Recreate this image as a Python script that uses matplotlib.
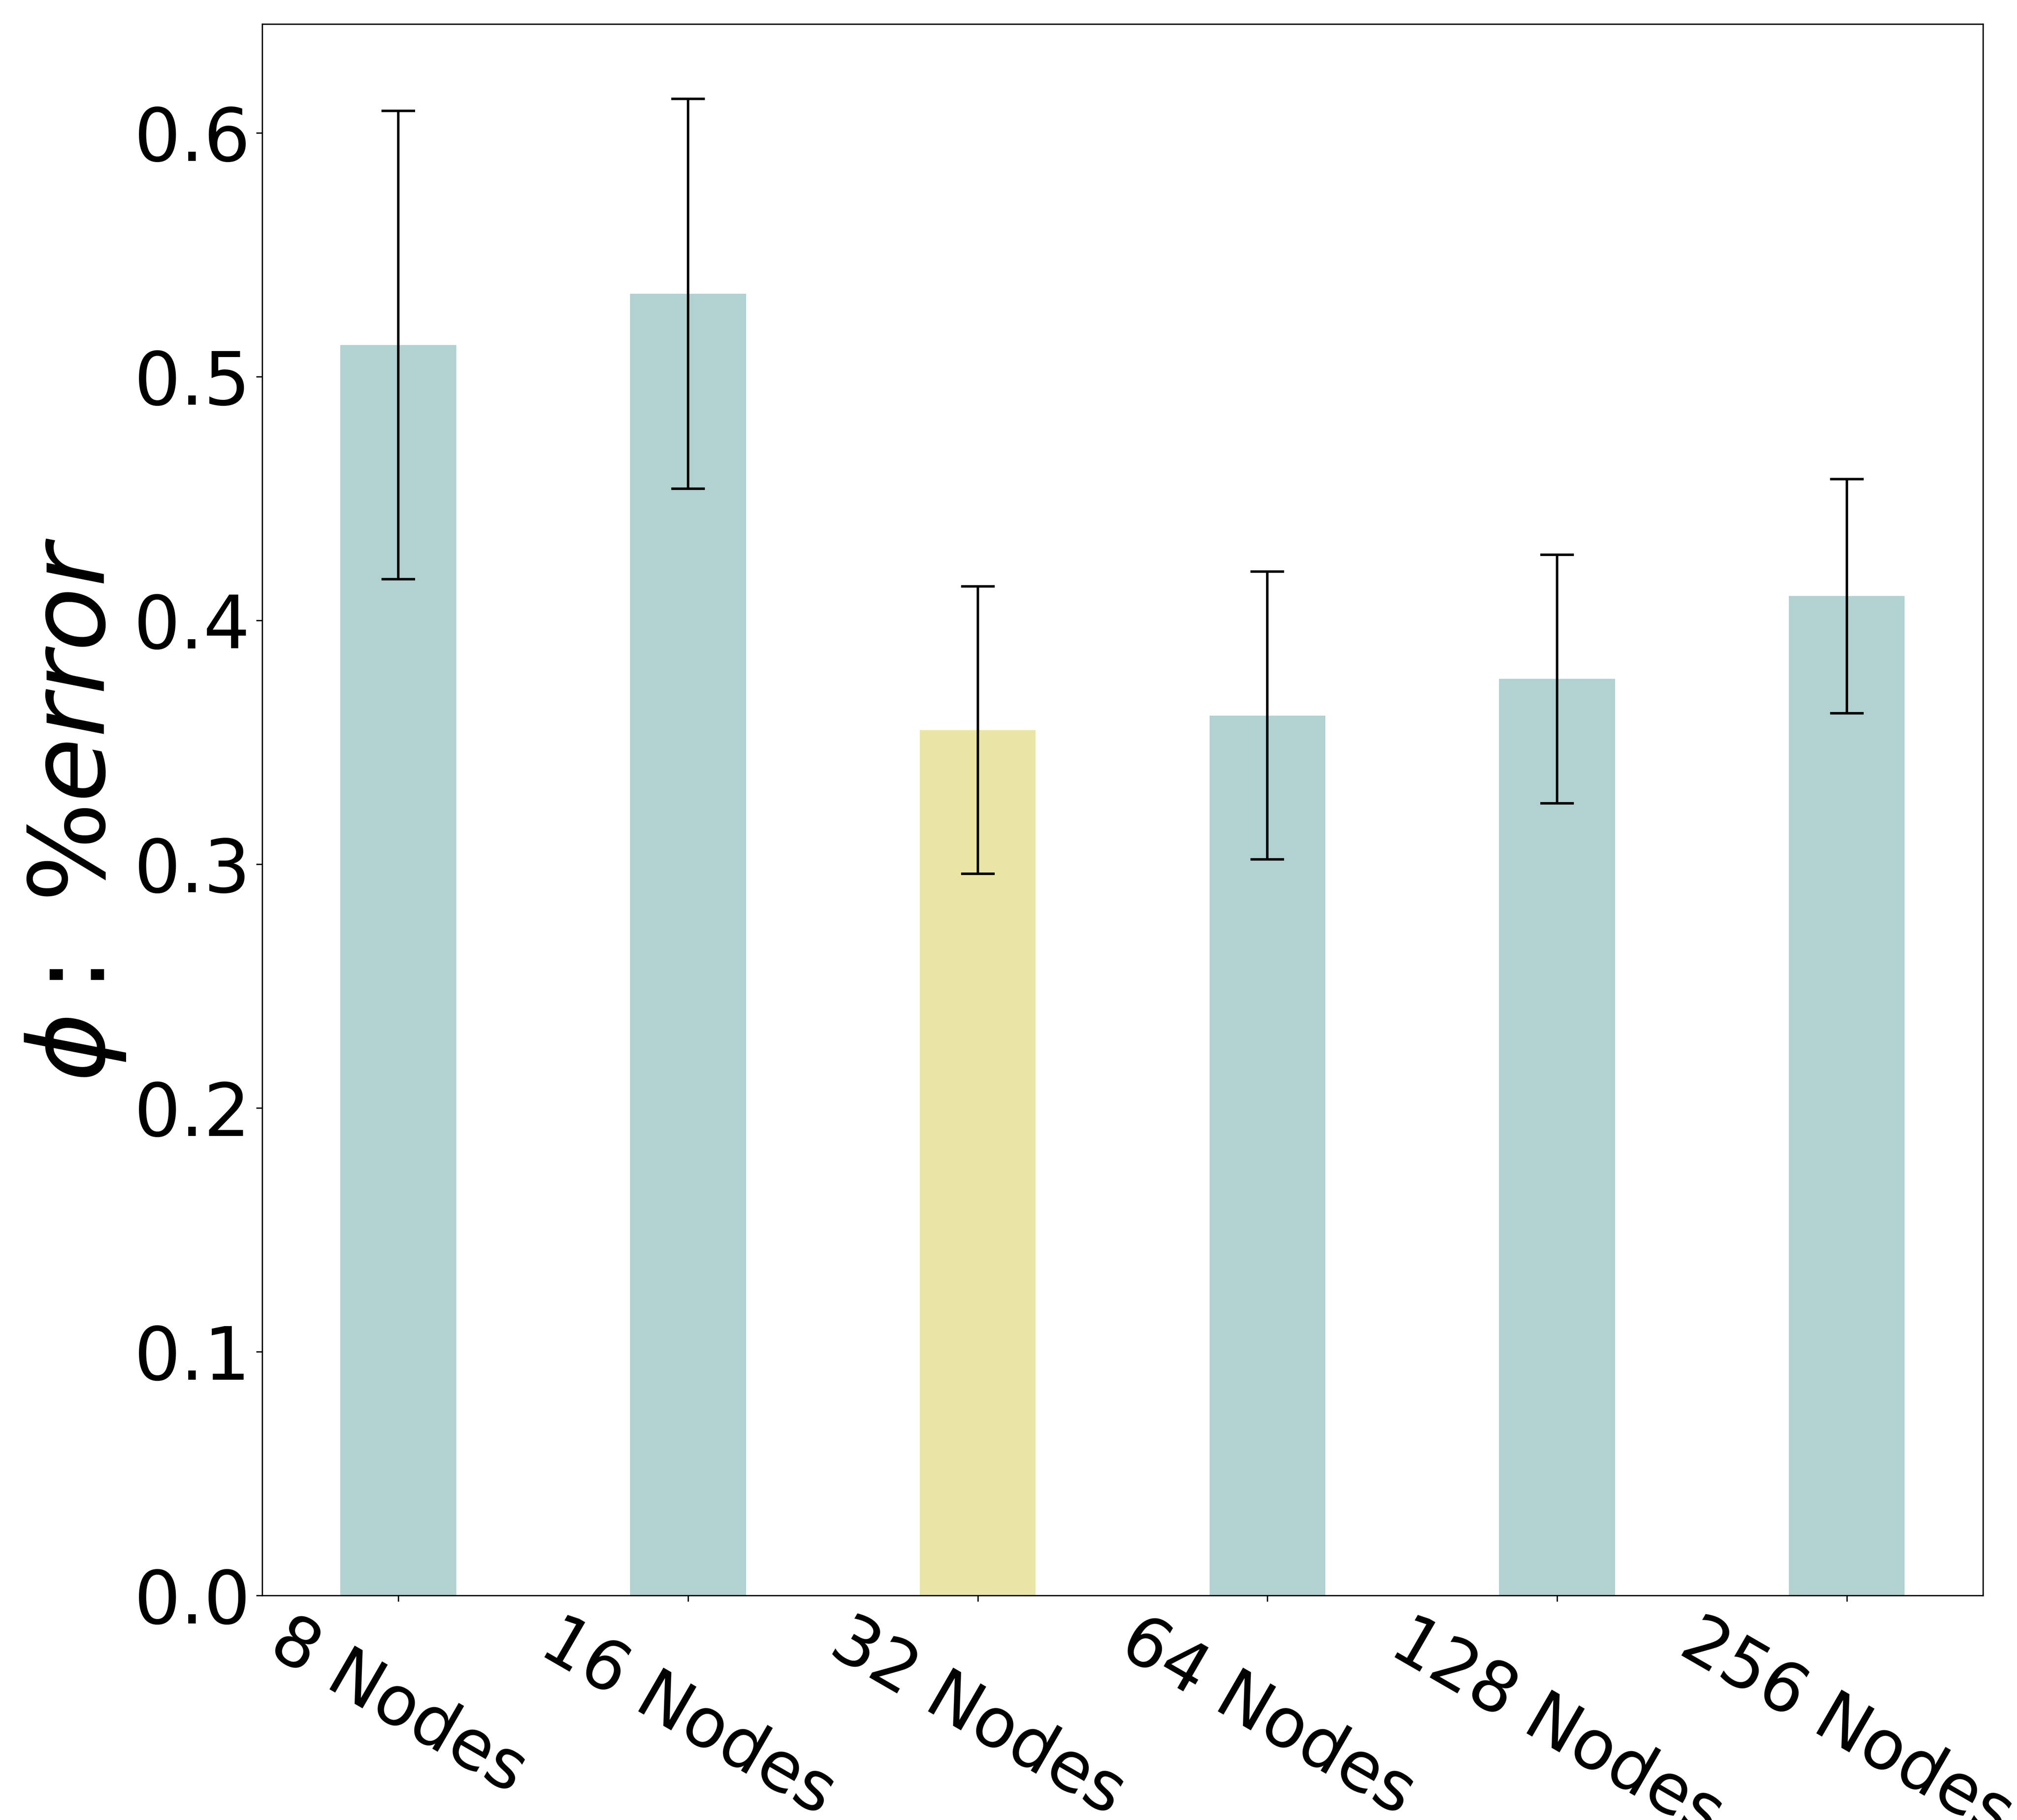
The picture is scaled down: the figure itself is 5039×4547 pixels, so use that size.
import matplotlib
matplotlib.use('Agg')
import matplotlib.pyplot as plt
import numpy as np

# node counts and the measured error for each
labels = ['8 Nodes', '16 Nodes', '32 Nodes', '64 Nodes', '128 Nodes', '256 Nodes']
means = [0.513, 0.534, 0.355, 0.361, 0.376, 0.410]
errors = [0.096, 0.080, 0.059, 0.059, 0.051, 0.048]
highlight = 2  # the best configuration gets the yellow bar

base_color = '#b2d1d1'
best_color = '#e9e6a5'

fig = plt.figure(figsize=(5039 / 300, 4547 / 300), dpi=300)
ax = fig.add_axes([0.130, 0.1234, 0.8531, 0.8634])

x = np.arange(len(labels))
colors = [best_color if i == highlight else base_color for i in range(len(labels))]
ax.bar(x, means, width=0.4, color=colors, yerr=errors, capsize=10,
       error_kw={'elinewidth': 1.5, 'capthick': 1.5, 'ecolor': 'black'})

ax.set_xticks(x)
ax.set_xticklabels(labels, rotation=-30, fontsize=41.5)
ax.tick_params(axis='y', labelsize=44)
ax.set_ylabel(r'$\phi:\ \%error$', fontsize=63, labelpad=4)

fig.savefig('out.png', dpi=300)
